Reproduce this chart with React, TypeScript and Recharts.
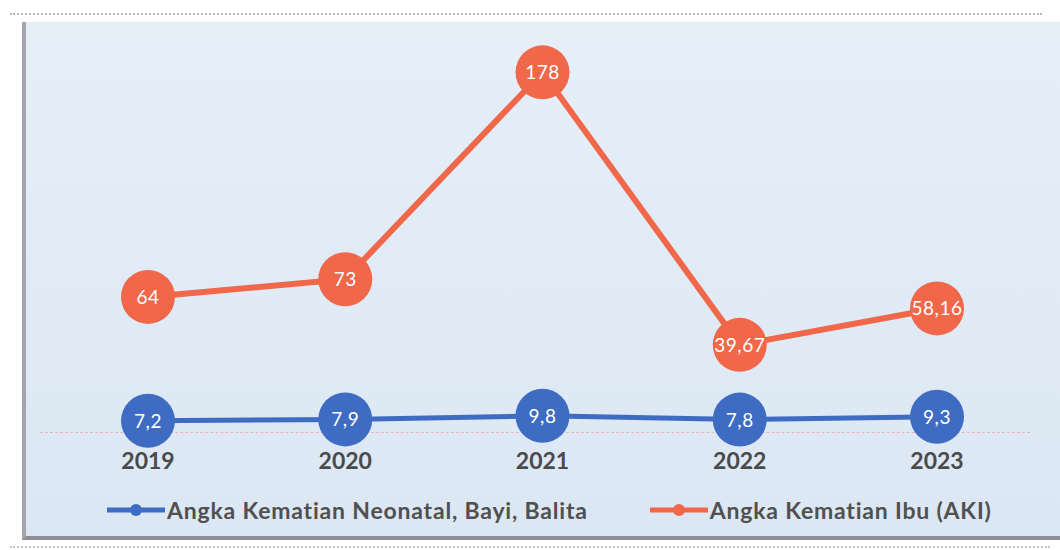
import { LineChart, Line, XAxis, YAxis } from "recharts"

const years = ["2019", "2020", "2021", "2022", "2023"]
const neonatal = [7.2, 7.9, 9.8, 7.8, 9.3]
const aki = [64, 73, 178, 39.67, 58.16]

const BLUE = "#3e6cc3"
const ORANGE = "#f0674a"

const data = years.map((year, i) => ({ year, neonatal: neonatal[i], aki: aki[i] }))

const fmt = (v: number) => String(v).replace(".", ",")

function makeDot(fill: string) {
  return (props: any) => {
    const { cx, cy, value, index } = props
    return (
      <g key={`dot-${fill}-${index}`}>
        <circle cx={cx} cy={cy} r={27} fill={fill} />
        <text x={cx} y={cy} dy={7} textAnchor="middle" fill="#fff" fontSize={19} fontFamily="Lato" letterSpacing={0.5}>
          {fmt(value)}
        </text>
      </g>
    )
  }
}

const YearTick = (props: any) => {
  const { x, y, payload } = props
  return (
    <text x={x} y={y} dy={46} textAnchor="middle" fill="#4a4a4a" fontSize={23} fontWeight="bold" fontFamily="Lato">
      {payload.value}
    </text>
  )
}

function LegendItem({ color, label }: { color: string; label: string }) {
  return (
    <div style={{ display: "flex", alignItems: "center" }}>
      <svg width={58} height={16}>
        <line x1={0} y1={8} x2={58} y2={8} stroke={color} strokeWidth={5} />
        <circle cx={29} cy={8} r={6} fill={color} />
      </svg>
      <span style={{ fontSize: 23, fontWeight: "bold", color: "#505050", marginLeft: 2, letterSpacing: 0.8 }}>{label}</span>
    </div>
  )
}

export default function App() {
  return (
    <div style={{ position: "absolute", left: 0, top: 0, width: 1060, height: 550, background: "#fff", fontFamily: "Lato", overflow: "hidden" }}>
      <div style={{ position: "absolute", left: 10, top: 13, width: 1032, borderTop: "2px dotted #b8b8b8" }} />
      <div
        style={{
          position: "absolute", left: 22, top: 22, width: 1038, height: 518,
          background: "linear-gradient(#e6eff8, #dbe7f3)",
          borderLeft: "4px solid #a3a6ad", borderBottom: "4px solid #8e8f94",
          boxSizing: "border-box",
        }}
      />
      <div style={{ position: "absolute", left: 10, top: 546, width: 1040, borderTop: "2px dotted #c4c4c4" }} />
      <div style={{ position: "absolute", left: 40, top: 432, width: 990, borderTop: "1px dashed #e6b6c0" }} />
      <div style={{ position: "absolute", left: 0, top: 0 }}>
        <LineChart width={1060} height={550} data={data} margin={{ top: 29, right: 123, bottom: 97, left: 148 }}>
          <XAxis dataKey="year" axisLine={false} tickLine={false} tickSize={0} tickMargin={0} tick={<YearTick />} interval={0} />
          <YAxis yAxisId="aki" hide domain={[0, 200]} />
          <YAxis yAxisId="neo" hide domain={[6, 214]} />
          <Line yAxisId="neo" dataKey="neonatal" stroke={BLUE} strokeWidth={5} dot={makeDot(BLUE)} activeDot={false} isAnimationActive={false} />
          <Line yAxisId="aki" dataKey="aki" stroke={ORANGE} strokeWidth={6} dot={makeDot(ORANGE)} activeDot={false} isAnimationActive={false} />
        </LineChart>
      </div>
      <div style={{ position: "absolute", left: 107, top: 496, display: "flex", gap: 62 }}>
        <LegendItem color={BLUE} label="Angka Kematian Neonatal, Bayi, Balita" />
        <LegendItem color={ORANGE} label="Angka Kematian Ibu (AKI)" />
      </div>
    </div>
  )
}
